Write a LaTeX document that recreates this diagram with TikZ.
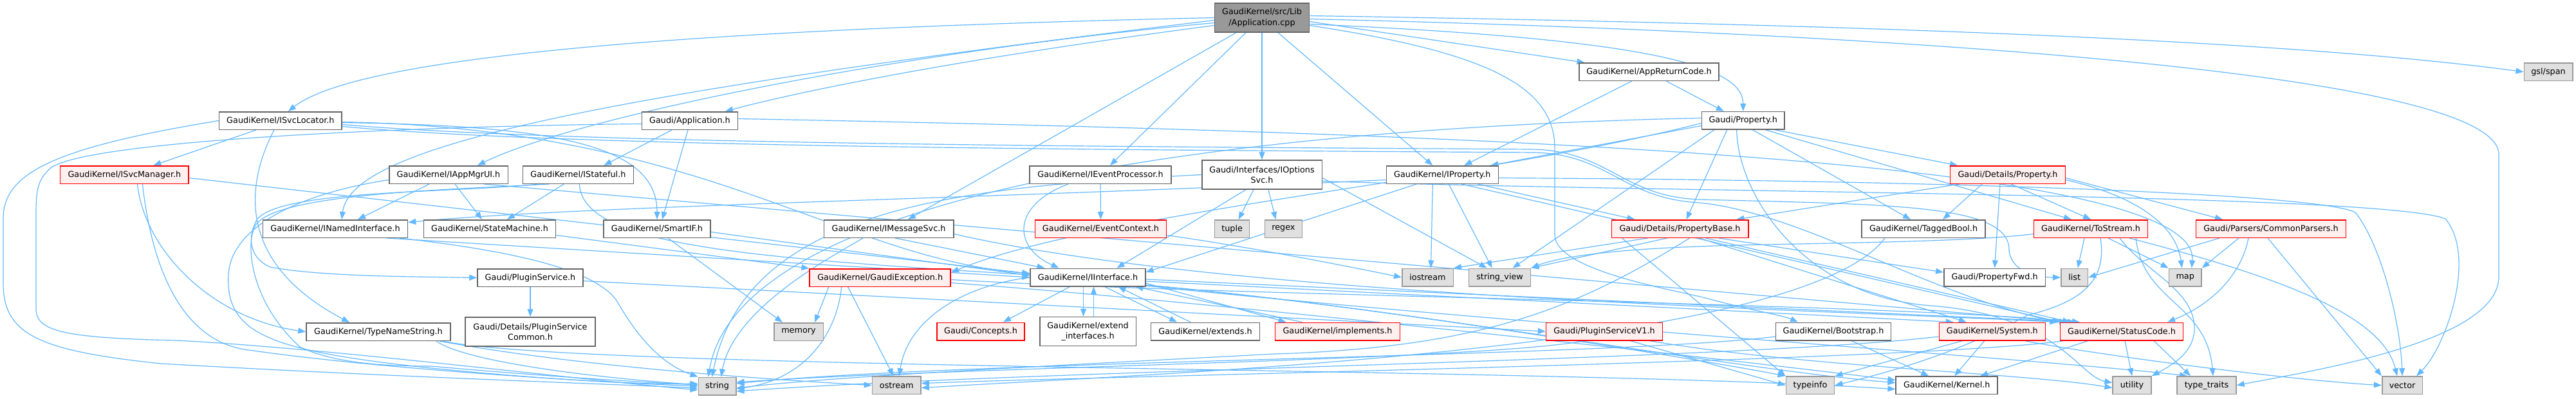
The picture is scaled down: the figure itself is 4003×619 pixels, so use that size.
\documentclass[tikz,border=0pt]{standalone}
\usepackage{fontspec}
\setmainfont{DejaVu Sans}
\usetikzlibrary{arrows.meta,backgrounds}
\definecolor{edgec}{HTML}{63B8FF}
\definecolor{nbord}{HTML}{666666}
\definecolor{sysfill}{HTML}{E0E0E0}
\definecolor{sysbord}{HTML}{999999}
\definecolor{redfill}{HTML}{FFF0F0}
\definecolor{redbord}{HTML}{FF0000}
\definecolor{rootfill}{HTML}{999999}
\begin{document}
\begin{tikzpicture}[x=1pt,y=1pt,
 nd/.style={draw=nbord,fill=white,line width=1.5pt,inner sep=0pt,minimum height=27.5pt,align=center,font=\fontsize{12.8}{16.5}\selectfont},
 rd/.style={nd,draw=redbord,fill=redfill},
 sy/.style={nd,draw=sysbord,fill=sysfill},
 rt/.style={nd,fill=rootfill},
 two/.style={minimum height=45pt},
 ed/.style={draw=edgec,line width=1.2pt,-{Triangle[length=12pt,width=9pt]}}]
\useasboundingbox (0,0) rectangle (4003,-619);
% ---------------- nodes ----------------
\node[rt,two,minimum width=147] (root) at (1961,-27.5) {GaudiKernel/src/Lib\\/Application.cpp};
\node[nd,minimum width=217] (AppRC) at (2562.5,-111.7) {GaudiKernel/AppReturnCode.h};
\node[sy,minimum width=75.5] (gsl) at (3960,-111.7) {gsl/span};
\node[nd,minimum width=190.5] (ISvcLoc) at (435.9,-187.5) {GaudiKernel/ISvcLocator.h};
\node[nd,minimum width=149] (AppH) at (1072,-187.5) {Gaudi/Application.h};
\node[nd,minimum width=128.5] (PropH) at (2708.7,-187.4) {Gaudi/Property.h};
\node[rd,minimum width=199.5] (ISvcMgr) at (193.4,-271.5) {GaudiKernel/ISvcManager.h};
\node[nd,minimum width=184.5] (IAppMgr) at (697,-271.5) {GaudiKernel/IAppMgrUI.h};
\node[nd,minimum width=172] (IStateful) at (898.4,-271.5) {GaudiKernel/IStateful.h};
\node[nd,minimum width=220] (IEvtProc) at (1710,-271.5) {GaudiKernel/IEventProcessor.h};
\node[nd,two,minimum width=186.5] (IOptSvc) at (1961,-271.5) {Gaudi/Interfaces/IOptions\\Svc.h};
\node[nd,minimum width=174] (IProp) at (2241.3,-271.5) {GaudiKernel/IProperty.h};
\node[rd,minimum width=178.6] (DetProp) at (3120,-271.5) {Gaudi/Details/Property.h};
\node[nd,minimum width=225] (INamed) at (521,-355.5) {GaudiKernel/INamedInterface.h};
\node[nd,minimum width=205] (StateM) at (761,-355.5) {GaudiKernel/StateMachine.h};
\node[nd,minimum width=166] (SmartIF) at (1021,-355.5) {GaudiKernel/SmartIF.h};
\node[nd,minimum width=201.5] (IMsgSvc) at (1381,-355.5) {GaudiKernel/IMessageSvc.h};
\node[rd,minimum width=204] (EvtCtx) at (1710.5,-355.5) {GaudiKernel/EventContext.h};
\node[sy,minimum width=54] (tuple) at (1914.6,-355.5) {tuple};
\node[sy,minimum width=58] (regex) at (1994.4,-355.5) {regex};
\node[rd,minimum width=212.5] (PropBase) at (2610.5,-355.5) {Gaudi/Details/PropertyBase.h};
\node[nd,minimum width=192] (Tagged) at (2989,-355.5) {GaudiKernel/TaggedBool.h};
\node[rd,minimum width=177] (ToStream) at (3249,-355.5) {GaudiKernel/ToStream.h};
\node[rd,minimum width=232.6] (CommonP) at (3529,-355.5) {Gaudi/Parsers/CommonParsers.h};
\node[nd,minimum width=164] (PlugSvc) at (824,-431.5) {Gaudi/PluginService.h};
\node[rd,minimum width=219] (GExc) at (1367.7,-431.5) {GaudiKernel/GaudiException.h};
\node[nd,minimum width=178.6] (IIface) at (1690.5,-431) {GaudiKernel/IInterface.h};
\node[sy,minimum width=79.5] (iostream) at (2218.5,-431) {iostream};
\node[sy,minimum width=96] (strview) at (2330.6,-431) {string\_view};
\node[nd,minimum width=157.6] (PropFwd) at (3099.6,-431) {Gaudi/PropertyFwd.h};
\node[sy,minimum width=41.5] (list) at (3223.7,-431) {list};
\node[sy,minimum width=50.6] (map) at (3395.7,-431) {map};
\node[nd,minimum width=224] (TypeName) at (588,-515.5) {GaudiKernel/TypeNameString.h};
\node[nd,two,minimum width=202] (PSCommon) at (824,-515.5) {Gaudi/Details/PluginService\\Common.h};
\node[sy,minimum width=76.5] (memory) at (1241,-515.5) {memory};
\node[rd,minimum width=136] (Concepts) at (1524,-515) {Gaudi/Concepts.h};
\node[nd,two,minimum width=149.5] (extIf) at (1690.5,-515) {GaudiKernel/extend\\\_interfaces.h};
\node[nd,minimum width=169] (extends) at (1873,-515) {GaudiKernel/extends.h};
\node[rd,minimum width=194] (implements) at (2078.5,-515) {GaudiKernel/implements.h};
\node[rd,minimum width=180.7] (PSV1) at (2493,-515) {Gaudi/PluginServiceV1.h};
\node[nd,minimum width=179] (Bootstrap) at (2849,-515) {GaudiKernel/Bootstrap.h};
\node[rd,minimum width=165] (System) at (3095.8,-515) {GaudiKernel/System.h};
\node[rd,minimum width=190.6] (StatusCode) at (3297,-515) {GaudiKernel/StatusCode.h};
\node[sy,minimum width=58.5] (string) at (1114.5,-600) {string};
\node[sy,minimum width=75.6] (ostream) at (1393.3,-598.7) {ostream};
\node[sy,minimum width=75.4] (typeinfo) at (2813,-598.7) {typeinfo};
\node[nd,minimum width=158] (Kernel) at (3025.2,-598.7) {GaudiKernel/Kernel.h};
\node[sy,minimum width=59.6] (utility) at (3313,-598.7) {utility};
\node[sy,minimum width=91.8] (typetraits) at (3429,-598.7) {type\_traits};
\node[sy,minimum width=62.6] (vector) at (3733,-598.7) {vector};
% ---------------- edges ----------------
\begin{scope}[on background layer]
% root
\draw[ed] (root.west) .. controls (1100,-45) and (560,-85) .. ([xshift=12]ISvcLoc.north);
\draw[ed] ([yshift=-4]root.west) .. controls (900,-150) and (545,-230) .. ([xshift=10]INamed.north);
\draw[ed] ([yshift=-8]root.west) .. controls (1400,-80) and (900,-180) .. ([xshift=45]IAppMgr.north);
\draw[ed] ([yshift=-12]root.west) .. controls (1500,-90) and (1250,-140) .. ([xshift=55]AppH.north);
\draw[ed] ([xshift=-40]root.south) -- ([xshift=30]IMsgSvc.north);
\draw[ed] ([xshift=-25]root.south) -- ([xshift=15]IEvtProc.north);
\draw[ed] (root.south) -- (IOptSvc.north);
\draw[ed] ([xshift=25]root.south) -- ([xshift=-15]IProp.north);
\draw[ed] ([yshift=-6]root.east) -- ([xshift=-100]AppRC.north);
\draw[ed] ([yshift=-10]root.east) .. controls (2550,-60) and (2709,-100) .. (PropH.north);
\draw[ed] ([yshift=-12]root.east) .. controls (2300,-80) and (2416,-130) .. (2416,-230) -- (2416,-365) .. controls (2416,-420) and (2600,-450) .. (2650,-463) .. controls (2720,-482) and (2770,-490) .. ([xshift=-55]Bootstrap.north);
\draw[ed] ([yshift=-2]root.east) .. controls (2900,-50) and (3883,-110) .. (3883,-240) -- (3883,-430) .. controls (3883,-530) and (3600,-575) .. (typetraits.east);
\draw[ed] ([yshift=3]root.east) .. controls (2700,-35) and (3500,-55) .. (gsl.west);
% AppReturnCode
\draw[ed] ([xshift=-27]AppRC.south) -- ([xshift=34]IProp.north);
\draw[ed] ([xshift=27]AppRC.south) -- ([xshift=-30]PropH.north);
% ISvcLocator
\draw[ed] ([xshift=-38]ISvcLoc.south) -- ([xshift=45]ISvcMgr.north);
\draw[ed] ([xshift=-10]ISvcLoc.south) .. controls (380,-290) and (370,-410) .. ([xshift=-45]TypeName.north);
\draw[ed] (ISvcLoc.west) .. controls (80,-230) and (5,-270) .. (5,-340) -- (5,-440) .. controls (5,-520) and (60,-545) .. (250,-565) .. controls (600,-585) and (900,-595) .. ([yshift=-3]string.west);
\draw[ed] ([yshift=-3]ISvcLoc.east) .. controls (880,-195) and (1021,-230) .. (SmartIF.north);
\draw[ed] ([yshift=-2]ISvcLoc.east) .. controls (1100,-200) and (1300,-400) .. ([yshift=6]IIface.west);
\draw[ed] ([yshift=-6]ISvcLoc.east) .. controls (900,-225) and (1800,-228) .. (2380,-232) .. controls (2500,-234) and (2520,-305) .. (2640,-310) .. controls (2950,-318) and (3125,-318) .. (3122,-390) .. controls (3126,-420) and (3160,-431) .. (list.west);
\draw[ed] ([yshift=-9]ISvcLoc.east) .. controls (900,-230) and (1800,-233) .. (2385,-237) .. controls (2500,-240) and (2520,-308) .. (2640,-315) .. controls (2800,-330) and (3000,-460) .. (StatusCode.north west);
% ISvcManager
\draw[ed] ([xshift=20]ISvcMgr.south) .. controls (225,-390) and (330,-495) .. (TypeName.west);
\draw[ed] ([xshift=28]ISvcMgr.south) .. controls (240,-450) and (300,-530) .. (380,-543) .. controls (600,-575) and (950,-595) .. (string.west);
\draw[ed] ([yshift=-5]ISvcMgr.east) -- ([yshift=6]IIface.west);
% IAppMgrUI
\draw[ed] ([xshift=-30]IAppMgr.south) -- ([xshift=35]INamed.north);
\draw[ed] ([xshift=10]IAppMgr.south) -- ([xshift=-12]StateM.north);
\draw[ed] ([yshift=-8]IAppMgr.west) .. controls (470,-300) and (360,-350) .. (355,-426) .. controls (350,-520) and (420,-545) .. (670,-572) .. controls (850,-590) and (1000,-598) .. ([yshift=4]string.west);
\draw[ed] ([xshift=55]IAppMgr.south) -- ([xshift=-85]StatusCode.north);
% Application.h
\draw[ed] ([xshift=-28]AppH.south) -- ([xshift=40]IStateful.north);
\draw[ed] ([xshift=-3]AppH.south) -- ([xshift=8]SmartIF.north);
\draw[ed] ([yshift=-5]AppH.west) .. controls (700,-195) and (150,-215) .. (80,-260) .. controls (56,-280) and (56,-300) .. (56,-340) -- (56,-480) .. controls (56,-515) and (100,-525) .. (273,-529) .. controls (500,-540) and (900,-590) .. ([yshift=-6]string.west);
\draw[ed] ([yshift=3]AppH.east) .. controls (2500,-210) and (3420,-260) .. ([xshift=10]map.north);
% IStateful
\draw[ed] ([xshift=-22]IStateful.south) -- ([xshift=27]StateM.north);
\draw[ed] ([xshift=2]IStateful.south) .. controls (905,-380) and (1150,-400) .. ([yshift=4]IIface.west);
\draw[ed] ([xshift=-60]IStateful.south) .. controls (700,-300) and (440,-295) .. (400,-340) .. controls (385,-365) and (385,-400) .. (420,-415) .. controls (500,-430) and (650,-430) .. (PlugSvc.west);
\draw[ed] ([xshift=-45]IStateful.south) .. controls (700,-295) and (430,-300) .. (397,-350) .. controls (380,-380) and (390,-470) .. (466,-539) .. controls (520,-565) and (600,-569) .. (670,-569) .. controls (850,-585) and (1000,-594) .. ([yshift=2]string.west);
% IEventProcessor
\draw[ed] (IEvtProc.south) -- (EvtCtx.north);
\draw[ed] ([xshift=-50]IEvtProc.south) .. controls (1570,-320) and (1575,-385) .. ([xshift=-45]IIface.north);
% IOptionsSvc
\draw[ed] ([xshift=-25]IOptSvc.south) -- ([xshift=45]IIface.north);
\draw[ed] ([xshift=-13]IOptSvc.south) -- ([xshift=10]tuple.north);
\draw[ed] ([xshift=10]IOptSvc.south) -- ([xshift=-12]regex.north);
\draw[ed] (IOptSvc.west) .. controls (1500,-290) and (1160,-320) .. ([xshift=-8]string.north);
\draw[ed] ([yshift=-5]IOptSvc.east) -- ([xshift=-20]strview.north);
\draw[ed] ([yshift=-10]IOptSvc.east) .. controls (2600,-300) and (3700,-300) .. (3800,-340) .. controls (3850,-400) and (3800,-540) .. ([xshift=22]vector.north);
% IProperty
\draw[ed] ([yshift=-8]IProp.west) .. controls (1500,-310) and (900,-320) .. ([yshift=10]INamed.east);
\draw[ed] ([xshift=-40]IProp.south) -- ([yshift=8]IIface.east);
\draw[ed] ([xshift=-15]IProp.south) -- ([xshift=5]iostream.north);
\draw[ed] ([xshift=10]IProp.south) -- ([xshift=-12]strview.north);
\draw[ed] ([xshift=55]IProp.south) -- ([xshift=-70]PropBase.north);
\draw[ed] ([xshift=30]IProp.south) -- ([xshift=-95]StatusCode.north);
\draw[ed] ([yshift=-5]IProp.east) .. controls (3000,-280) and (3600,-300) .. (3660,-330) .. controls (3700,-380) and (3730,-500) .. (vector.north);
% Gaudi/Property.h
\draw[ed] ([yshift=-8]PropH.west) -- ([xshift=75]IProp.north);
\draw[ed] ([xshift=50]PropH.south) -- ([xshift=-78]DetProp.north);
\draw[ed] ([xshift=-25]PropH.south) -- ([xshift=10]PropBase.north);
\draw[ed] ([xshift=15]PropH.south) -- ([xshift=-20]Tagged.north);
\draw[ed] ([xshift=35]PropH.south) -- ([xshift=-30]ToStream.north);
\draw[ed] ([xshift=-45]PropH.south) -- ([xshift=20]strview.north);
\draw[ed] ([xshift=-10]PropH.south) .. controls (2700,-300) and (2800,-460) .. (3000,-475) .. controls (3200,-490) and (3230,-585) .. ([yshift=4]utility.west);
\draw[ed] ([yshift=4]PropH.west) .. controls (1900,-200) and (1150,-300) .. ([xshift=-14]string.north);
\draw[ed] ([yshift=-4]PropH.west) .. controls (2300,-280) and (1700,-330) .. ([yshift=8]GExc.east);
% Details/Property.h
\draw[ed] ([xshift=-75]DetProp.south) -- ([xshift=88]PropBase.north);
\draw[ed] ([xshift=-40]DetProp.south) -- ([xshift=30]Tagged.north);
\draw[ed] ([xshift=5]DetProp.south) -- (ToStream.north);
\draw[ed] ([xshift=-12]DetProp.south) -- (PropFwd.north);
\draw[ed] ([yshift=-5]DetProp.east) -- ([xshift=-75]CommonP.north);
\draw[ed] ([yshift=-8]DetProp.east) .. controls (3300,-300) and (3380,-340) .. ([xshift=-5]map.north);
% PropertyBase
\draw[ed] ([xshift=60]PropBase.south) -- ([yshift=8]PropFwd.west);
\draw[ed] ([xshift=-50]PropBase.south) -- (iostream.north east);
\draw[ed] ([xshift=-20]PropBase.south) -- (strview.north east);
\draw[ed] ([xshift=15]PropBase.south) .. controls (2450,-480) and (2300,-540) .. (1980,-550) .. controls (1600,-570) and (1300,-585) .. ([yshift=-3]string.east);
\draw[ed] ([xshift=40]PropBase.south) -- ([xshift=-80]StatusCode.north);
\draw[ed] ([xshift=30]PropBase.south) -- ([xshift=-40]System.north);
\draw[ed] ([xshift=-90]PropBase.south) -- (typeinfo.north west);
% TaggedBool
\draw[ed] ([xshift=-60]Tagged.south) .. controls (2800,-545) and (1800,-580) .. ([yshift=-4]ostream.east);
% ToStream
\draw[ed] ([xshift=-10]ToStream.south) -- ([xshift=5]list.north);
\draw[ed] ([xshift=27]ToStream.south) -- (map.north west);
\draw[ed] ([xshift=15]ToStream.south) .. controls (3275,-440) and (3230,-470) .. (3150,-490) .. controls (3050,-545) and (2950,-575) .. (typeinfo.east);
\draw[ed] ([yshift=-8]ToStream.west) .. controls (3050,-378) and (2750,-378) .. (2640,-383) .. controls (2500,-388) and (2420,-400) .. (strview.north east);
\draw[ed] ([xshift=60]ToStream.south) .. controls (3500,-420) and (3700,-480) .. ([xshift=-8]vector.north);
\draw[ed] ([xshift=45]ToStream.south) .. controls (3330,-420) and (3410,-450) .. (3410,-510) .. controls (3410,-550) and (3370,-570) .. (utility.north east);
\draw[ed] ([xshift=70]ToStream.south) .. controls (3330,-470) and (3429,-470) .. ([xshift=10]typetraits.north);
% CommonParsers
\draw[ed] ([xshift=-50]CommonP.south) -- (map.north east);
\draw[ed] ([xshift=-5]CommonP.south) -- (vector.north west);
\draw[ed] ([xshift=-35]CommonP.south) .. controls (3480,-440) and (3420,-480) .. ([xshift=-25]StatusCode.north east);
\draw[ed] ([xshift=-80]CommonP.south) -- (list.east);
% IMessageSvc
\draw[ed] ([xshift=10]IMsgSvc.south) -- ([xshift=-67]IIface.north);
\draw[ed] ([xshift=-40]IMsgSvc.south) .. controls (1290,-400) and (1140,-480) .. ([xshift=6]string.north);
\draw[ed] ([yshift=-8]IMsgSvc.east) .. controls (1900,-460) and (2800,-480) .. ([xshift=-100]StatusCode.north);
% SmartIF
\draw[ed] ([yshift=-5]SmartIF.east) -- ([yshift=3]IIface.west);
\draw[ed] ([xshift=17]SmartIF.south) -- ([xshift=-25]memory.north);
% INamedInterface
\draw[ed] ([xshift=80]INamed.south) -- (IIface.west);
\draw[ed] ([xshift=100]INamed.south) .. controls (800,-390) and (930,-420) .. (960,-470) .. controls (1000,-540) and (1040,-570) .. (string.north west);
% StateMachine
\draw[ed] ([yshift=-10]StateM.east) -- (GExc.north west);
% TypeNameString
\draw[ed] ([xshift=90]TypeName.south) .. controls (720,-560) and (900,-585) .. ([yshift=2]string.west);
\draw[ed] ([xshift=100]TypeName.south) .. controls (900,-575) and (2400,-570) .. ([yshift=-6]Kernel.west);
\draw[ed] ([xshift=95]TypeName.south) .. controls (900,-570) and (1200,-590) .. (ostream.west);
% PluginService
\draw[ed] (PlugSvc.south) -- (PSCommon.north);
\draw[ed] ([yshift=-5]PlugSvc.east) -- (PSV1.west);
% GaudiException
\draw[ed] ([xshift=-80]GExc.south) -- ([xshift=25]memory.north);
\draw[ed] ([xshift=-60]GExc.south) .. controls (1300,-520) and (1250,-590) .. ([yshift=-4]string.east);
\draw[ed] ([xshift=-50]GExc.south) -- ([xshift=-5]ostream.north);
\draw[ed] ([yshift=-8]GExc.east) .. controls (1900,-470) and (2700,-560) .. ([yshift=8]Kernel.west);
\draw[ed] ([yshift=-3]GExc.east) .. controls (1900,-460) and (2900,-470) .. ([xshift=-65]StatusCode.north);
% IInterface
\draw[ed] ([xshift=-28]IIface.south) -- ([xshift=35]Concepts.north);
\draw[ed] ([xshift=-7]IIface.south) -- ([xshift=-7]extIf.north);
\draw[ed] ([xshift=9]extIf.north) -- ([xshift=9]IIface.south);
\draw[ed] ([xshift=26]IIface.south) -- ([xshift=-44]extends.north);
\draw[ed] ([xshift=-23]extends.north) -- ([xshift=47]IIface.south);
\draw[ed] ([yshift=-9]IIface.east) -- ([xshift=-80]implements.north);
\draw[ed] ([xshift=-55]implements.north) -- ([xshift=74]IIface.south);
\draw[ed] (IIface.west) .. controls (1490,-445) and (1410,-500) .. ([xshift=4]ostream.north);
\draw[ed] ([yshift=-6]IIface.east) -- ([xshift=-60]System.north);
\draw[ed] ([yshift=-3]IIface.east) -- ([xshift=-72]StatusCode.north);
\draw[ed] ([yshift=-12]IIface.east) .. controls (2200,-480) and (2700,-575) .. ([yshift=4]Kernel.west);
\draw[ed] ([yshift=-12]IIface.east) .. controls (2100,-470) and (2650,-560) .. (typeinfo.north west);
\draw[ed] ([yshift=-13]IIface.east) .. controls (2300,-500) and (3200,-560) .. ([xshift=-30]typetraits.north);
% EventContext
\draw[ed] ([yshift=-10]EvtCtx.east) .. controls (1950,-385) and (2100,-415) .. (iostream.west);
% Bootstrap
\draw[ed] ([xshift=28]Bootstrap.south) -- ([xshift=-28]Kernel.north);
\draw[ed] ([yshift=-8]Bootstrap.west) .. controls (2500,-555) and (1500,-560) .. ([yshift=4]string.east);
% System
\draw[ed] ([xshift=-12]System.south) -- ([xshift=12]Kernel.north);
\draw[ed] ([xshift=-46]System.south) -- (typeinfo.north east);
\draw[ed] ([yshift=-8]System.west) .. controls (2700,-560) and (1600,-575) .. ([yshift=-8]string.east);
\draw[ed] ([xshift=50]System.south) .. controls (3250,-550) and (3550,-590) .. (vector.west);
% StatusCode
\draw[ed] ([xshift=-52]StatusCode.south) -- ([xshift=52]Kernel.north);
\draw[ed] ([xshift=5]StatusCode.south) -- (utility.north);
\draw[ed] ([xshift=-90]StatusCode.south) .. controls (3000,-560) and (1700,-585) .. ([yshift=3]ostream.east);
\draw[ed] ([xshift=50]StatusCode.south) -- ([xshift=-25]typetraits.north);
% PluginServiceV1
\draw[ed] ([xshift=-30]PSV1.south) .. controls (2300,-560) and (1500,-570) .. ([yshift=6]string.east);
\draw[ed] ([xshift=40]PSV1.south) -- (typeinfo.west);
\draw[ed] ([xshift=70]PSV1.south) .. controls (2800,-570) and (3150,-580) .. ([yshift=-4]utility.west);
\end{scope}
\end{tikzpicture}
\end{document}
